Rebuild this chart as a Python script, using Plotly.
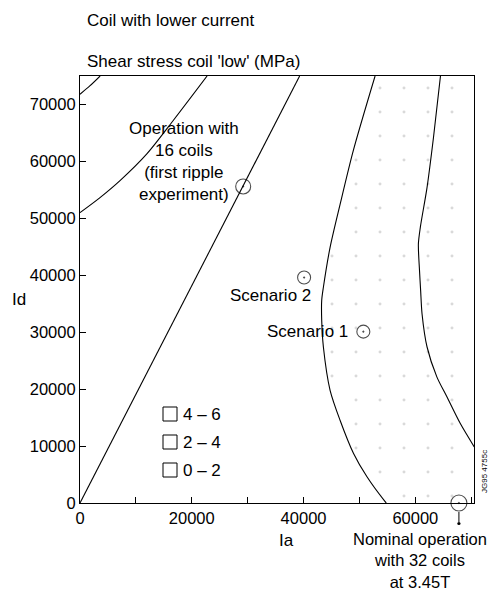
import plotly.graph_objects as go

# ---------------- data ----------------
# axis ranges
ia_range = [0, 70500]
id_range = [0, 75000]

# straight "operation with 16 coils" line through the origin
line16_ia = [0, 39300]
line16_id = [0, 75000]

# contour lines of shear stress (MPa)
cont_a_ia = [0, 1800, 3600]
cont_a_id = [71800, 73300, 75000]

cont_b_ia = [0, 3580, 7160, 12000, 16650, 22740]
cont_b_id = [51000, 53640, 56620, 61360, 67140, 75000]

cont_c_ia = [52800, 48900, 46550, 44750, 43550, 43250, 43250, 43550, 44750, 46550, 48950, 51350, 54600, 54800]
cont_c_id = [75000, 61900, 52500, 44900, 37900, 35600, 32100, 27400, 19800, 14500, 8700, 4600, 230, 0]

cont_d_ia = [64500, 63250, 62100, 60900, 60550, 60750, 60950, 61200, 62100, 63850, 65650, 68050, 70550]
cont_d_id = [75000, 64200, 55450, 48450, 45500, 40850, 37350, 33250, 27400, 22150, 18650, 13950, 9850]

# operating points
pt_names = ["16 coils", "Scenario 2", "Scenario 1", "Nominal"]
pt_ia = [29200, 40100, 50700, 67800]
pt_id = [55600, 39600, 30100, 0]
pt_size = [15, 13, 13, 16]

# legend classes
legend_labels = ["4 \u2013 6", "2 \u2013 4", "0 \u2013 2"]

# ticks
x_tickvals = [0, 10000, 20000, 30000, 40000, 50000, 60000, 70000]
x_ticktext = ["0", "", "20000", "", "40000", "", "60000", ""]
y_tickvals = [0, 10000, 20000, 30000, 40000, 50000, 60000, 70000]
y_ticktext = [str(v) for v in y_tickvals]

# ---------------- figure ----------------
FONT = "Liberation Sans, Arial, Helvetica, sans-serif"
W, H = 494, 592
L, R, T, B = 80, 20, 76, 89
PW, PH = W - L - R, H - T - B


def px(xp):
    return (xp - L) / PW


def py(yp):
    return (H - B - yp) / PH


fig = go.Figure()

# sparse stipple right of the inner boundary
fig.add_trace(go.Scatter(
    x=cont_c_ia + [ia_range[1], ia_range[1]],
    y=cont_c_id + [id_range[0], id_range[1]],
    fill="toself", mode="none", fillcolor="rgba(0,0,0,0)",
    fillpattern=dict(shape=".", fgcolor="#b4b4b4", bgcolor="rgba(0,0,0,0)", size=24, solidity=0.012),
    hoverinfo="skip", showlegend=False,
))

line_style = dict(color="black", width=1.1)
for xs, ys in [(cont_a_ia, cont_a_id), (cont_b_ia, cont_b_id),
               (cont_c_ia, cont_c_id), (cont_d_ia, cont_d_id)]:
    fig.add_trace(go.Scatter(x=xs, y=ys, mode="lines", line=dict(shape="spline", smoothing=0.8, **line_style),
                             showlegend=False, hoverinfo="skip"))

fig.add_trace(go.Scatter(x=line16_ia, y=line16_id, mode="lines", line=line_style,
                         showlegend=False, hoverinfo="skip"))

fig.add_trace(go.Scatter(
    x=pt_ia, y=pt_id, mode="markers", text=pt_names, cliponaxis=False,
    marker=dict(symbol="circle-open-dot", size=pt_size, color="black", line=dict(color="black", width=1.1)),
    showlegend=False,
))

annos = []
def txt(text, xp, yp, size=17, xanchor="center", yanchor="middle", align="center", angle=0):
    annos.append(dict(text=text, x=px(xp), y=py(yp), xref="paper", yref="paper",
                      showarrow=False, xanchor=xanchor, yanchor=yanchor, align=align,
                      textangle=angle, borderpad=0,
                      font=dict(family=FONT, size=size, color="black")))

txt("Coil with lower current", 86, 20, xanchor="left")
txt("Shear stress coil 'low' (MPa)", 86, 62, xanchor="left")
txt("Operation with<br>16 coils<br>(first ripple<br>experiment)", 184, 161)
txt("Scenario 2", 312, 295, xanchor="right")
txt("Scenario 1", 349, 331, xanchor="right")
txt("Nominal operation<br>with 32 coils<br>at 3.45T", 420, 560, size=16.5)
txt("Ia", 286, 540)
txt("Id", 19, 299)
txt("JG95 4755c", 484, 472, size=8, angle=-90)

shapes = []
leg_rows = [414, 442, 470]
for lab, yr in zip(legend_labels, leg_rows):
    shapes.append(dict(type="rect", xref="paper", yref="paper",
                       x0=px(163), x1=px(177), y0=py(yr + 7), y1=py(yr - 7),
                       line=dict(color="black", width=1), fillcolor="white"))
    txt(lab, 182, yr, xanchor="left")

# arrow below nominal point
shapes.append(dict(type="line", xref="x", yref="paper", ysizemode="pixel", yanchor=0,
                   x0=pt_ia[3], x1=pt_ia[3], y0=-9, y1=-19, line=dict(color="black", width=1)))
shapes.append(dict(type="circle", xref="x", yref="paper", xsizemode="pixel", ysizemode="pixel",
                   xanchor=pt_ia[3], yanchor=0, x0=-1.6, x1=1.6, y0=-22, y1=-19,
                   fillcolor="black", line=dict(color="black", width=0)))

axis_common = dict(showline=True, linecolor="black", linewidth=1.2, mirror=True,
                   ticks="inside", ticklen=6, tickcolor="black", showgrid=False, zeroline=False,
                   tickfont=dict(family=FONT, size=16.5, color="black"))

fig.update_layout(
    width=W, height=H, margin=dict(l=L, r=R, t=T, b=B),
    paper_bgcolor="white", plot_bgcolor="white",
    xaxis=dict(range=ia_range, tickmode="array", tickvals=x_tickvals, ticktext=x_ticktext, **axis_common),
    yaxis=dict(range=id_range, tickmode="array", tickvals=y_tickvals, ticktext=y_ticktext, **axis_common),
    annotations=annos, shapes=shapes, showlegend=False,
)

fig.write_html("out.html")
